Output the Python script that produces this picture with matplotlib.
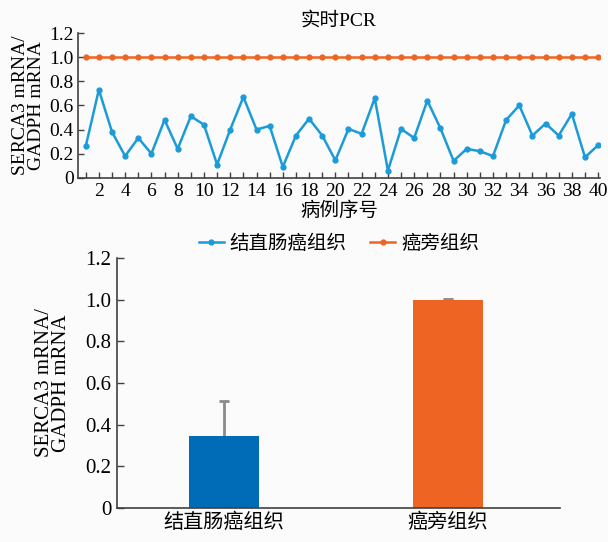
import matplotlib
matplotlib.use("Agg")
import matplotlib.pyplot as plt
import numpy as np

plt.rcParams['font.family'] = ['Liberation Serif', 'Noto Sans CJK SC']

# per-case relative expression (SERCA3 / GADPH)
cases = list(range(1, 41))
tumor = [0.26, 0.73, 0.38, 0.18, 0.33, 0.20, 0.48, 0.24, 0.51, 0.44,
         0.11, 0.40, 0.67, 0.40, 0.43, 0.09, 0.35, 0.49, 0.35, 0.145,
         0.405, 0.365, 0.66, 0.06, 0.405, 0.33, 0.64, 0.41, 0.14, 0.24,
         0.22, 0.18, 0.48, 0.60, 0.35, 0.45, 0.35, 0.53, 0.17, 0.27]
adjacent = [1.0] * 40

# group means and SD
groups = ['结直肠癌组织', '癌旁组织']
means = [0.345, 1.0]
sds = [0.17, 0.004]

c_line_blue = '#1b9bd7'
c_line_orange = '#f06423'
c_bar = ['#006cb7', '#ee6423']
c_axis = '#404040'
yticklabels = ['0', '0.2', '0.4', '0.6', '0.8', '1.0', '1.2']

fig = plt.figure(figsize=(6.08, 5.42), dpi=100)
fig.patch.set_facecolor('#fbfbfb')

# ---- top: line chart per case ----
ax1 = fig.add_axes([0.128, 0.672, 0.859, 0.267])
ax1.set_facecolor('#fbfbfb')
ax1.plot(cases, tumor, color=c_line_blue, lw=1.8, marker='o', ms=3.5,
         label='结直肠癌组织')
ax1.plot(cases, adjacent, color=c_line_orange, lw=1.8, marker='o', ms=3.5,
         label='癌旁组织')
ax1.set_xlim(0.4, 40.15)
ax1.set_ylim(0, 1.2)
ax1.set_xticks(range(1, 41), minor=True)
ax1.set_xticks(range(2, 41, 2))
ax1.set_yticks(np.arange(0, 1.21, 0.2))
ax1.set_yticklabels(yticklabels)
ax1.tick_params(axis='both', which='both', direction='in', length=4,
                width=1, color=c_axis, labelsize=14, pad=3)
ax1.tick_params(axis='x', which='major', pad=4)
for s in ['top', 'right']:
    ax1.spines[s].set_visible(False)
for s in ['left', 'bottom']:
    ax1.spines[s].set_color(c_axis)
    ax1.spines[s].set_linewidth(1.2)
ax1.set_title('实时PCR', fontsize=14, pad=5)
ax1.text(0.5, -0.165, '病例序号', transform=ax1.transAxes, fontsize=14,
         ha='center', va='top')
ax1.set_ylabel('SERCA3 mRNA/\nGADPH mRNA', fontsize=14, labelpad=3,
               linespacing=0.9)
ax1.legend(loc='upper center', bbox_to_anchor=(0.5, -0.27), ncol=2,
           frameon=False, fontsize=14, handlelength=1.3, handletextpad=0.3,
           columnspacing=1.2)

# ---- bottom: bar chart of group means ----
ax2 = fig.add_axes([0.192, 0.063, 0.729, 0.461])
ax2.set_facecolor('#fbfbfb')
x = np.arange(len(groups))
ax2.errorbar(x, means, yerr=sds, fmt='none', ecolor='#8a8a8a',
             elinewidth=2, capsize=3.5, capthick=2, zorder=1)
ax2.bar(x, means, width=0.31, color=c_bar, zorder=2)
ax2.set_xlim(-0.48, 1.5)
ax2.set_ylim(0, 1.2)
ax2.set_xticks(x)
ax2.set_xticklabels(groups)
ax2.set_yticks(np.arange(0, 1.21, 0.2))
ax2.set_yticklabels(yticklabels)
ax2.tick_params(axis='y', direction='in', length=5, width=1, color=c_axis,
                labelsize=15, pad=4)
ax2.tick_params(axis='x', length=0, labelsize=14.5, pad=4)
for s in ['top', 'right']:
    ax2.spines[s].set_visible(False)
for s in ['left', 'bottom']:
    ax2.spines[s].set_color(c_axis)
    ax2.spines[s].set_linewidth(1.2)
ax2.set_ylabel('SERCA3 mRNA/\nGADPH mRNA', fontsize=15, labelpad=10,
               linespacing=0.9)

fig.savefig('out.png', dpi=100, facecolor=fig.get_facecolor())
